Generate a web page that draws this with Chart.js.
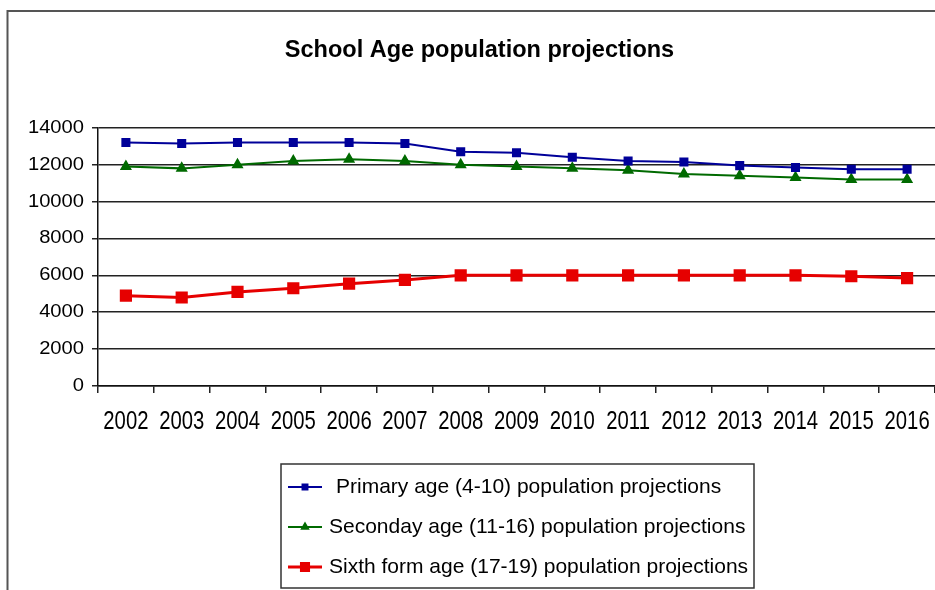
<!DOCTYPE html>
<html>
<head>
<meta charset="utf-8">
<script src="https://cdn.jsdelivr.net/npm/chart.js@4.4.0/dist/chart.umd.min.js"></script>
<style>
  html, body { margin: 0; padding: 0; background: #fff; }
  #wrap { width: 935px; height: 590px; }
</style>
</head>
<body>
<div id="wrap"><canvas id="popChart" width="935" height="590"></canvas></div>
<script>
// School age population, 2002 - 2016
const years = ['2002', '2003', '2004', '2005', '2006', '2007', '2008', '2009', '2010', '2011', '2012', '2013', '2014', '2015', '2016'];
const primary = [13200, 13150, 13200, 13200, 13200, 13150, 12700, 12650, 12400, 12200, 12150, 11950, 11850, 11750, 11750];
const secondary = [11900, 11800, 12000, 12200, 12300, 12200, 12000, 11900, 11800, 11700, 11500, 11400, 11300, 11200, 11200];
const sixthForm = [4900, 4800, 5100, 5300, 5550, 5750, 6000, 6000, 6000, 6000, 6000, 6000, 6000, 5950, 5850];
const yTicks = [0, 2000, 4000, 6000, 8000, 10000, 12000, 14000];

const SANS = '"Liberation Sans", Arial, sans-serif';

// squeeze / stretch the text a box draws, scaling each string about its anchor
function reshapeText(box, method, sx, dx) {
  if (box['_reshaped_' + method]) return;
  box['_reshaped_' + method] = true;
  const orig = box[method];
  box[method] = function (...args) {
    const ctx = this.ctx;
    const fill = CanvasRenderingContext2D.prototype.fillText;
    ctx.fillText = function (t, x, y) {
      this.save();
      this.translate(x + dx, y);
      this.scale(sx, 1);
      fill.call(this, t, 0, 0);
      this.restore();
    };
    try { orig.apply(this, args); } finally { delete ctx.fillText; }
  };
}

// white page with the frame on the top and left edges
const framePlugin = {
  id: 'frame',
  beforeDraw(chart) {
    reshapeText(chart.scales.x, 'drawLabels', 0.78, 0);
    reshapeText(chart.scales.y, 'drawLabels', 1.12, 0);
    reshapeText(chart.titleBlock, 'draw', 0.98, 12);
    const ctx = chart.ctx;
    ctx.save();
    ctx.fillStyle = '#fff';
    ctx.fillRect(0, 0, chart.width, chart.height);
    ctx.strokeStyle = '#555';
    ctx.lineWidth = 2;
    ctx.beginPath();
    ctx.moveTo(7.5, chart.height);
    ctx.lineTo(7.5, 11);
    ctx.lineTo(chart.width, 11);
    ctx.stroke();
    ctx.restore();
  }
};

// boxed legend, one series per row
const boxLegend = {
  id: 'boxLegend',
  afterDraw(chart) {
    const ctx = chart.ctx;
    const box = { x: 281, y: 464, w: 473, h: 124 };
    const rows = [487, 527, 567];
    ctx.save();
    ctx.strokeStyle = '#333';
    ctx.lineWidth = 1.5;
    ctx.strokeRect(box.x, box.y, box.w, box.h);
    chart.data.datasets.forEach((ds, i) => {
      const y = rows[i];
      ctx.strokeStyle = ds.borderColor;
      ctx.fillStyle = ds.borderColor;
      ctx.lineWidth = ds.borderWidth;
      ctx.beginPath();
      ctx.moveTo(288, y);
      ctx.lineTo(322, y);
      ctx.stroke();
      Chart.helpers.drawPoint(ctx, {
        pointStyle: ds.pointStyle,
        radius: ds.legendRadius,
        rotation: 0,
        borderWidth: 1
      }, 305, y);
      ctx.fillStyle = '#000';
      ctx.font = '21px ' + SANS;
      ctx.textBaseline = 'middle';
      ctx.textAlign = 'left';
      ctx.fillText(ds.label, i === 0 ? 336 : 329, y);
    });
    ctx.restore();
  }
};

new Chart(document.getElementById('popChart'), {
  type: 'line',
  data: {
    labels: years,
    datasets: [{
      label: 'Primary age (4-10) population projections',
      data: primary,
      borderColor: '#000099',
      backgroundColor: '#000099',
      borderWidth: 2,
      pointStyle: 'rect',
      pointRadius: 5,
      legendRadius: 3.5,
      tension: 0
    }, {
      label: 'Seconday age (11-16) population projections',
      data: secondary,
      borderColor: '#006a00',
      backgroundColor: '#006a00',
      borderWidth: 2,
      pointStyle: 'triangle',
      pointRadius: 5,
      legendRadius: 3.5,
      tension: 0
    }, {
      label: 'Sixth form age (17-19) population projections',
      data: sixthForm,
      borderColor: '#e60000',
      backgroundColor: '#e60000',
      borderWidth: 3,
      pointStyle: 'rect',
      pointRadius: 6.5,
      legendRadius: 5,
      tension: 0
    }]
  },
  options: {
    responsive: false,
    animation: false,
    layout: { autoPadding: false, padding: { left: 0, right: 0, top: 0, bottom: 154 } },
    plugins: {
      legend: { display: false },
      tooltip: { enabled: false },
      title: {
        display: true,
        text: 'School Age population projections',
        color: '#000',
        font: { family: SANS, size: 24, weight: 'bold' },
        padding: { top: 36, bottom: 63 }
      }
    },
    scales: {
      x: {
        offset: true,
        afterFit(scale) {
          // the plot runs right up to the edge, labels may overhang
          scale.height = 50;
          scale.paddingLeft = 0;
          scale.paddingRight = 0;
        },
        grid: {
          offset: true,
          drawOnChartArea: false,
          drawTicks: true,
          tickLength: 7,
          color: '#222',
          lineWidth: 1.5
        },
        border: { color: '#111', width: 1.5 },
        ticks: {
          color: '#000',
          padding: 13,
          maxRotation: 0,
          autoSkip: false,
          font: { family: SANS, size: 26 }
        }
      },
      y: {
        min: 0,
        max: 14000,
        afterFit(scale) { scale.width = 98; },
        afterBuildTicks(scale) { scale.ticks = yTicks.map(v => ({ value: v })); },
        grid: {
          color: '#222',
          lineWidth: 1.5,
          drawTicks: true,
          tickLength: 6
        },
        border: { color: '#111', width: 1.5 },
        ticks: {
          color: '#000',
          padding: 8,
          font: { family: SANS, size: 18 },
          callback: v => String(v)
        }
      }
    }
  },
  plugins: [framePlugin, boxLegend]
});
</script>
</body>
</html>
